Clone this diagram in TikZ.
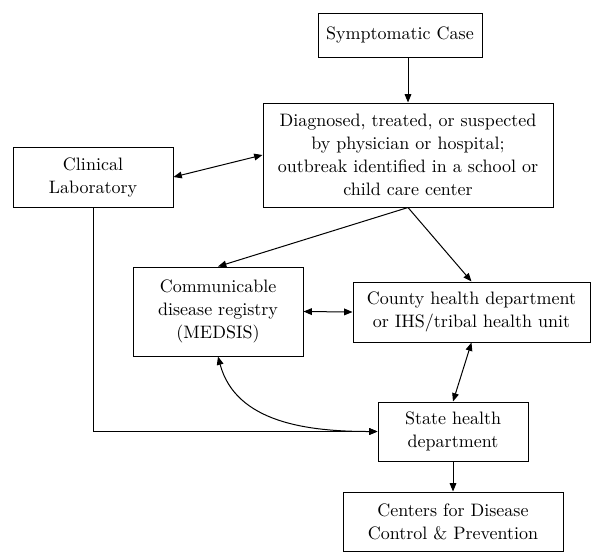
\documentclass[tikz,border=0pt]{standalone}
\usetikzlibrary{arrows.meta,positioning}
\tikzset{box/.style={draw, line width=0.6pt, align=center, inner sep=0pt,
    font=\rmfamily\fontsize{10.8pt}{13.8pt}\selectfont},
  link/.style={line width=0.6pt, -{Triangle[length=5pt,width=4pt]}},
  dlink/.style={line width=0.6pt, {Triangle[length=5pt,width=4pt]}-{Triangle[length=5pt,width=4pt]}}}
\begin{document}
\begin{tikzpicture}[x=0.6pt,y=-0.6pt]
\useasboundingbox (0,0) rectangle (593,552);

\node[box,minimum width=98.4pt,minimum height=26.4pt] (symp) at (400,35) {Symptomatic Case};
\node[box,minimum width=174pt,minimum height=62.4pt] (diag) at (408,155)
  {Diagnosed, treated, or suspected\\by physician or hospital;\\outbreak identified in a school or\\child care center};
\node[box,minimum width=96pt,minimum height=36pt] (clin) at (93,177) {Clinical\\Laboratory};
\node[box,minimum width=102pt,minimum height=53.4pt] (comm) at (218,311.5)
  {Communicable\\disease registry\\(MEDSIS)};
\node[box,minimum width=142.2pt,minimum height=36pt] (county) at (471.5,312)
  {County health department\\or IHS/tribal health unit};
\node[box,minimum width=90pt,minimum height=35.4pt] (state) at (453,431.5) {State health\\department};
\node[box,minimum width=132pt,minimum height=35.4pt] (cdc) at (453,521.5)
  {Centers for Disease\\Control \& Prevention};

\draw[link] (diag.north |- symp.south) -- (diag.north);
\draw[dlink] (clin.east) -- (diag.west);
\draw[link] (diag.south) -- (comm.north);
\draw[link] (diag.south) -- (county.north);
\draw[dlink] (comm.east) -- (county.west);
\draw[dlink] (county.south) -- (state.north);
\draw[dlink] (comm.south) to[out=-75,in=180] (state.west);
\draw[link] (clin.south) |- (state.west);
\draw[link] (state.south) -- (cdc.north);

\end{tikzpicture}
\end{document}
